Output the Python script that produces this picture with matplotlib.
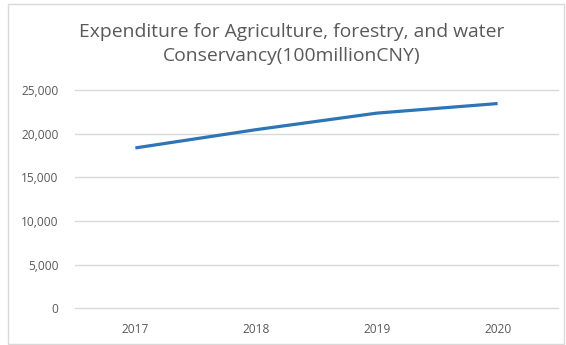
import matplotlib
matplotlib.use("Agg")
import matplotlib.pyplot as plt
from matplotlib.patches import Rectangle
from matplotlib.ticker import FuncFormatter

years = ["2017", "2018", "2019", "2020"]
expenditure = [18400, 20500, 22400, 23500]

GRAY_TEXT = "#595959"
GRID = "#d9d9d9"
LINE = "#2e75b6"

plt.rcParams["font.family"] = ["Open Sans", "DejaVu Sans"]

W, H = 566, 345
fig = plt.figure(figsize=(W / 100, H / 100), dpi=100)

# chart frame
fig.patches.append(Rectangle((8 / W, 1 / H), 556 / W, 340 / H,
                             transform=fig.transFigure, fill=False,
                             edgecolor=GRID, linewidth=1))

ax = fig.add_axes([75 / W, 37 / H, 483 / W, 217.5 / H])
x = range(len(years))
ax.plot(x, expenditure, color=LINE, lw=2.3, solid_capstyle="butt")

ax.set_xlim(-0.5, len(years) - 0.5)
ax.set_ylim(0, 25000)
ax.set_yticks(range(0, 25001, 5000))
ax.yaxis.set_major_formatter(FuncFormatter(lambda v, p: f"{int(v):,}"))
ax.set_xticks(list(x))
ax.set_xticklabels(years)

ax.grid(axis="y", color=GRID, lw=1)
for g in ax.yaxis.get_gridlines():
    g.set_clip_on(False)
ax.set_axisbelow(True)
for s in ax.spines.values():
    s.set_visible(False)
ax.tick_params(length=0, colors=GRAY_TEXT, labelsize=8.6)
ax.tick_params(axis="y", pad=12)
ax.tick_params(axis="x", pad=11)

fig.text(292 / W, 1 - 44 / H,
         "Expenditure for Agriculture, forestry, and water\nConservancy(100millionCNY)",
         ha="center", va="center", fontsize=13.9, color=GRAY_TEXT,
         linespacing=1.4)

fig.savefig("out.png", dpi=100)
